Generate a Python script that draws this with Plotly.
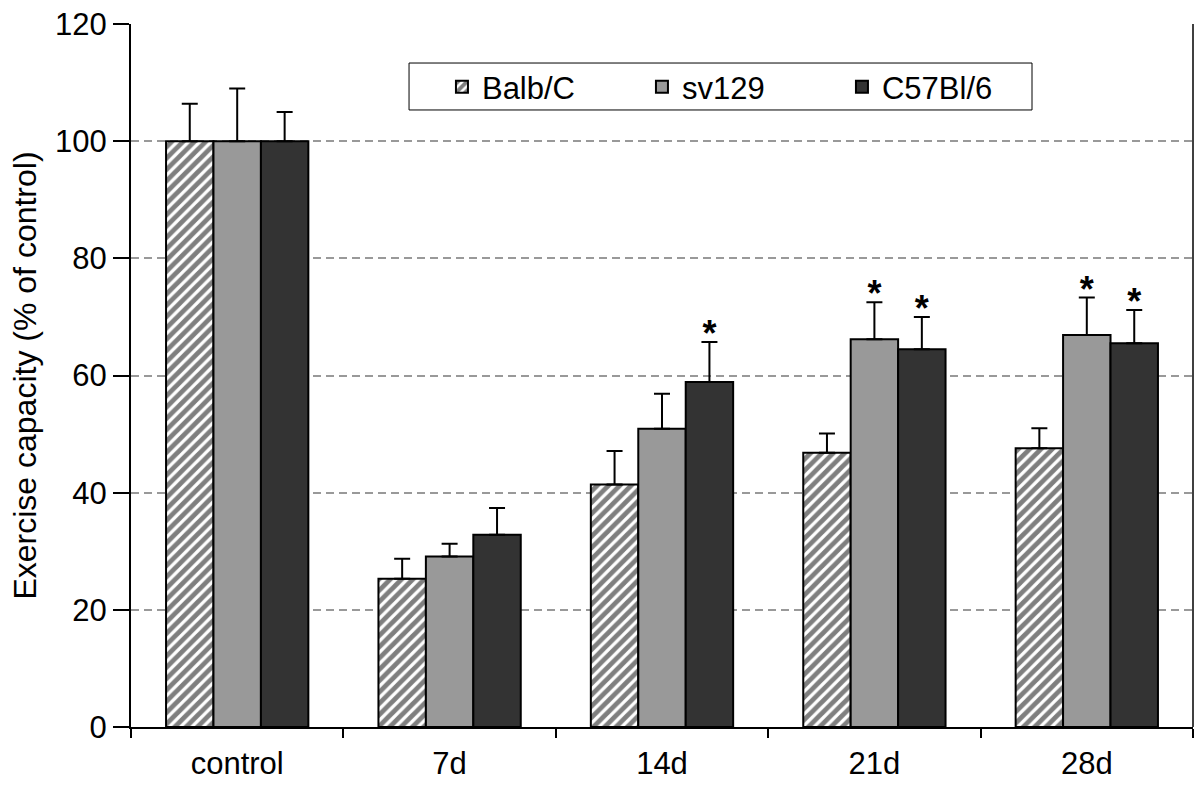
import plotly.graph_objects as go

categories = ["control", "7d", "14d", "21d", "28d"]
series_names = ["Balb/C", "sv129", "C57Bl/6"]
balbc = [100, 25.3, 41.4, 46.8, 47.6]
balbc_err = [6.4, 3.4, 5.7, 3.3, 3.4]
sv129 = [100, 29.1, 50.9, 66.2, 66.9]
sv129_err = [9.0, 2.2, 6.0, 6.3, 6.4]
c57 = [100, 32.8, 58.9, 64.5, 65.5]
c57_err = [5.0, 4.6, 6.8, 5.5, 5.7]
balbc_sig = [False, False, False, False, False]
sv129_sig = [False, False, False, True, True]
c57_sig = [False, False, True, True, True]
y_ticks = [0, 20, 40, 60, 80, 100, 120]
grid_vals = [20, 40, 60, 80, 100]

FONT = "Liberation Sans, Arial, Helvetica, sans-serif"
STAR = "<span style='font-size:36px'>*</span>"
fig = go.Figure()

styles = [
    dict(color="white", pattern=dict(shape="/", fgcolor="#000000", bgcolor="white", size=8, solidity=0.6)),
    dict(color="#999999"),
    dict(color="#333333"),
]
vals = [balbc, sv129, c57]
errs = [balbc_err, sv129_err, c57_err]
sigs = [balbc_sig, sv129_sig, c57_sig]

for name, v, e, st in zip(series_names, vals, errs, styles):
    fig.add_trace(go.Bar(
        x=categories, y=v, name=name,
        marker=dict(line=dict(color="black", width=2), **st),
        error_y=dict(type="data", array=e, arrayminus=[0] * len(e), symmetric=False,
                     color="black", thickness=2, width=8),
    ))

for name, v, e, s in zip(series_names, vals, errs, sigs):
    fig.add_trace(go.Scatter(
        x=categories, y=[vi + ei if si else None for vi, ei, si in zip(v, e, s)],
        mode="text", text=[STAR if si else "" for si in s], textposition="middle center",
        textfont=dict(family=FONT, size=16, color="black", weight="bold"),
        showlegend=False, hoverinfo="skip", name=name + " sig",
    ))

# invisible helper trace for the grid axis
fig.add_trace(go.Scatter(x=categories, y=[None] * len(categories), yaxis="y2",
                         showlegend=False, hoverinfo="skip", mode="markers"))

fig.update_layout(
    width=1195, height=785,
    margin=dict(l=131, r=2, t=24, b=58, autoexpand=False),
    paper_bgcolor="white", plot_bgcolor="white",
    font=dict(family=FONT, size=31, color="black"),
    barmode="group", bargap=0.33, bargroupgap=0,
    scattermode="group", scattergap=0.33,
    showlegend=True,
    legend=dict(orientation="h", x=0.2928, y=0.9488, xanchor="left", yanchor="top",
                bgcolor="rgba(0,0,0,0)", borderwidth=0,
                entrywidth=155, entrywidthmode="pixels",
                font=dict(family=FONT, size=31, color="black"),
                traceorder="normal"),
    xaxis=dict(type="category", showline=True, linecolor="black", linewidth=2,
               ticks="outside", ticklen=9, tickwidth=2, tickcolor="black",
               tickson="boundaries", showgrid=False, automargin=False,
               tickfont=dict(family=FONT, size=31), ticklabelstandoff=8),
    yaxis=dict(range=[0, 120], tickvals=y_ticks, showline=True, linecolor="black", linewidth=2,
               ticks="outside", ticklen=16, tickwidth=2, tickcolor="black",
               showgrid=False, zeroline=False, automargin=False,
               tickfont=dict(family=FONT, size=31), ticklabelstandoff=0,
               title=dict(text="Exercise capacity (% of control)", standoff=9,
                          font=dict(family=FONT, size=32))),
    yaxis2=dict(range=[0, 120], overlaying="y", side="left", tickvals=grid_vals,
                showgrid=True, gridcolor="#999999", gridwidth=2, griddash="8px,5px",
                showticklabels=False, ticks="", showline=False, zeroline=False,
                automargin=False),
    shapes=[
        dict(type="line", xref="paper", yref="paper", x0=1, x1=1, y0=0, y1=1,
             line=dict(color="black", width=1.5)),
        dict(type="rect", xref="paper", yref="paper", x0=0.2618, x1=0.8484, y0=0.8777, y1=0.9445,
             line=dict(color="black", width=1), fillcolor="white", layer="above"),
    ],
)

fig.write_html("out.html", config={"displayModeBar": False},
               post_script="document.body.style.margin='0px';")
